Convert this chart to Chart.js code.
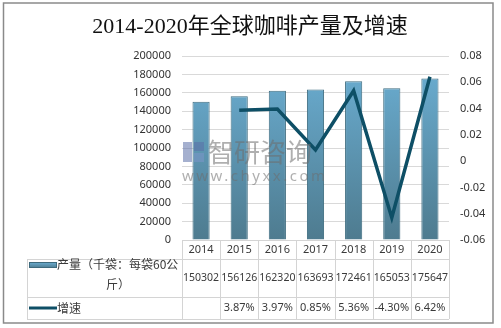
<!DOCTYPE html>
<html>
<head>
<meta charset="utf-8">
<script src="https://cdn.jsdelivr.net/npm/chart.js@4/dist/chart.umd.min.js"></script>
<style>
  html, body { margin: 0; padding: 0; background: #fff; }
  #wrap { width: 501px; height: 328px; }
</style>
</head>
<body>
<div id="wrap"><canvas id="c" width="501" height="328"></canvas></div>
<script>
// ---------- Data ----------
const years = ["2014", "2015", "2016", "2017", "2018", "2019", "2020"];
const output = [150302, 156126, 162320, 163693, 172461, 165053, 175647];
const growth = [null, 0.0387, 0.0397, 0.0085, 0.0536, -0.0430, 0.0642];
const growthText = ["", "3.87%", "3.97%", "0.85%", "5.36%", "-4.30%", "6.42%"];
const outputLabel = ["产量（千袋：每袋60公", "斤）"];
const growthLabel = "增速";
const titleText = "2014-2020年全球咖啡产量及增速";

const numFont = "'Noto Sans', 'Noto Sans CJK SC', sans-serif";
const cjkFont = "'Noto Sans CJK SC', sans-serif";
const lineColor = "#0e4f66";

function barGradient(ctx, top, bottom) {
  const g = ctx.createLinearGradient(0, top, 0, bottom);
  g.addColorStop(0, "#6cb0d5");
  g.addColorStop(1, "#4e7b8f");
  return g;
}

// ---------- Extras: title, frame, data table, watermark ----------
const extras = {
  id: "extras",
  afterDatasetsDraw(chart) {
    const ctx = chart.ctx;
    ctx.save();
    // watermark
    ctx.globalAlpha = 0.55;
    ctx.fillStyle = "#5b6fa8";
    ctx.fillRect(183, 142, 9, 20);
    ctx.fillRect(194, 142, 10, 9);
    ctx.fillStyle = "#7b95c8";
    ctx.fillRect(194, 153, 10, 9);
    ctx.fillStyle = "#6e6e6e";
    ctx.font = "26px " + cjkFont;
    ctx.textBaseline = "middle";
    ctx.textAlign = "left";
    ctx.fillText("智研咨询", 208, 152);
    ctx.font = "15px " + numFont;
    ctx.letterSpacing = "2.5px";
    ctx.fillText("www.chyxx.com", 182, 177);
    ctx.restore();
  },
  afterDraw(chart) {
    const ctx = chart.ctx;
    const a = chart.chartArea;
    const n = years.length;
    const colW = (a.right - a.left) / n;
    ctx.save();

    // frame
    ctx.strokeStyle = "#8a8a8a";
    ctx.lineWidth = 1.5;
    ctx.strokeRect(3.5, 3, 489.5, 320);

    // title
    ctx.fillStyle = "#111";
    ctx.textBaseline = "middle";
    ctx.textAlign = "center";
    ctx.font = "22px 'Liberation Serif', 'Noto Sans CJK SC', serif";
    ctx.fillText(titleText, 250, 27);

    // table grid
    const top = Math.round(a.bottom);
    const r1 = top + 19, r2 = top + 57, r3 = top + 79;
    const tl = 27;
    ctx.strokeStyle = "#d4d4d4";
    ctx.lineWidth = 1;
    ctx.beginPath();
    ctx.moveTo(a.left, top + 0.5); ctx.lineTo(a.right, top + 0.5);
    [r1, r2, r3].forEach(y => { ctx.moveTo(tl, y + 0.5); ctx.lineTo(a.right, y + 0.5); });
    ctx.moveTo(tl + 0.5, r1); ctx.lineTo(tl + 0.5, r3);
    for (let i = 0; i <= n; i++) {
      const x = Math.round(a.left + i * colW) + 0.5;
      ctx.moveTo(x, top); ctx.lineTo(x, r3);
    }
    ctx.stroke();

    // cells, squeezed to fit the narrow columns
    ctx.fillStyle = "#3a3a3a";
    ctx.font = "11px " + numFont;
    ctx.textAlign = "center";
    const fit = colW - 2;
    years.forEach((y, i) => {
      const cx = a.left + (i + 0.5) * colW;
      ctx.fillText(y, cx, top + 10, fit);
      ctx.fillText(String(output[i]), cx, top + 38, fit);
      if (growthText[i]) ctx.fillText(growthText[i], cx, top + 68, fit);
    });

    // legend keys
    ctx.fillStyle = barGradient(ctx, r1 + 3, r1 + 9);
    ctx.fillRect(29, r1 + 3, 28, 6);
    ctx.strokeStyle = "#3e6a7d";
    ctx.strokeRect(29.5, r1 + 3.5, 27, 5);
    ctx.strokeStyle = lineColor;
    ctx.lineWidth = 3;
    ctx.beginPath();
    ctx.moveTo(29, top + 68); ctx.lineTo(57, top + 68);
    ctx.stroke();

    ctx.fillStyle = "#3a3a3a";
    ctx.font = "12px " + cjkFont;
    ctx.textAlign = "left";
    ctx.fillText(outputLabel[0], 57, r1 + 5);
    ctx.textAlign = "center";
    ctx.fillText(outputLabel[1], 118, r1 + 25);
    ctx.textAlign = "left";
    ctx.fillText(growthLabel, 57, top + 68);
    ctx.restore();
  }
};

// ---------- Chart ----------
const ctx = document.getElementById("c").getContext("2d");
new Chart(ctx, {
  data: {
    labels: years,
    datasets: [
      {
        type: "line",
        label: growthLabel,
        data: growth,
        yAxisID: "y1",
        borderColor: lineColor,
        borderWidth: 3.5,
        pointRadius: 0,
        tension: 0,
        order: 1
      },
      {
        type: "bar",
        label: outputLabel.join(""),
        data: output,
        yAxisID: "y",
        backgroundColor: c => {
          const a = c.chart.chartArea;
          if (!a) return "#5f9cbc";
          return barGradient(c.chart.ctx, a.top, a.bottom);
        },
        borderColor: "#3f6d80",
        borderWidth: 1,
        categoryPercentage: 1,
        barPercentage: 0.45,
        order: 2
      }
    ]
  },
  options: {
    responsive: false,
    animation: false,
    layout: { padding: { left: 0, right: 0, top: 56, bottom: 88 } },
    plugins: { legend: { display: false }, tooltip: { enabled: false } },
    scales: {
      x: { display: false, offset: true },
      y: {
        position: "left",
        min: 0, max: 200000,
        ticks: {
          stepSize: 20000, padding: 11, color: "#333",
          font: { family: numFont, size: 11 },
          callback: v => String(v)
        },
        grid: { color: "#d9d9d9", drawTicks: false },
        border: { display: false },
        afterFit: s => { s.width = 182; }
      },
      y1: {
        position: "right",
        min: -0.06, max: 0.08,
        ticks: {
          stepSize: 0.02, padding: 11, color: "#333",
          font: { family: numFont, size: 11 },
          callback: v => String(Number(v.toFixed(2)))
        },
        grid: { display: false, drawTicks: false },
        border: { display: false },
        afterFit: s => { s.width = 52; }
      }
    }
  },
  plugins: [extras]
});
</script>
</body>
</html>
